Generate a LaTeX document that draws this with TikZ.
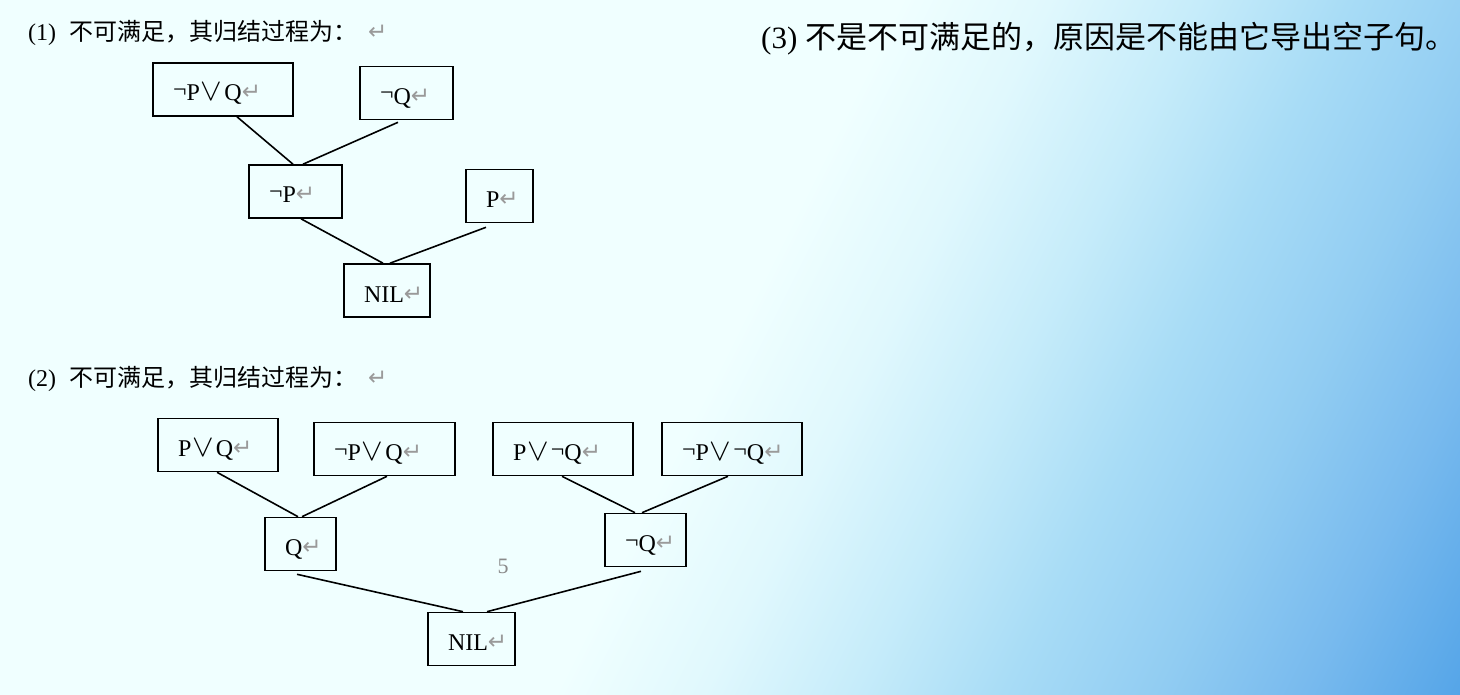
\documentclass[tikz,border=0pt]{standalone}
\usepackage{fontspec}
\setmainfont{Liberation Serif}
\newfontfamily\zhfont{Noto Sans CJK SC}
\newfontfamily\arrowfont{DejaVu Sans}

% background colours, light cyan towards blue in the lower right
\definecolor{bgA}{HTML}{F0FFFF}
\definecolor{bgB}{HTML}{E0F8FD}
\definecolor{bgC}{HTML}{C6ECFA}
\definecolor{bgD}{HTML}{A8DCF6}
\definecolor{bgE}{HTML}{92CDF2}
\definecolor{bgF}{HTML}{78BAEE}
\definecolor{bgG}{HTML}{55A5E8}
\definecolor{retgray}{HTML}{9A9A9A}
\definecolor{numgray}{HTML}{8A8A8A}

% stops along 2x+y (0..3615) mapped onto 25bp..75bp
\pgfdeclarehorizontalshading{bgshade}{100bp}{color(0bp)=(bgA); color(25bp)=(bgA);
  color(49.90bp)=(bgA); color(54.05bp)=(bgB); color(58.20bp)=(bgC);
  color(62.34bp)=(bgD); color(66.49bp)=(bgE); color(70.64bp)=(bgF);
  color(75bp)=(bgG); color(100bp)=(bgG)}

% paragraph mark, negation and disjunction signs
\newcommand\ret{\raisebox{1pt}{\arrowfont\fontsize{23}{23}\selectfont\color{retgray}↵}}
\newcommand\negs{\raisebox{3.5pt}{¬}}
\newcommand\disj{\kern1pt\scalebox{1.3}[1.25]{$\vee$}\kern2pt}

\tikzset{
  clause/.style={draw=black, line width=1.6pt, minimum height=53pt,
    inner xsep=20pt, inner ysep=0pt, align=left, text height=23pt, text depth=0pt,
    font=\fontsize{24}{24}\selectfont},
  link/.style={line width=1.6pt},
  heading/.style={anchor=base west, inner sep=0pt, font=\fontsize{24}{24}\selectfont},
}

\begin{document}
\begin{tikzpicture}[x=1pt, y=-1pt]
\useasboundingbox (0,0) rectangle (1460,695);

% background gradient
\begin{scope}
  \clip (0,0) rectangle (1460,695);
  \fill[bgA] (0,0) rectangle (1460,695);
  \begin{scope}[transform canvas={rotate=-26.565}]
    \shade[shading=bgshade] (0,-720) rectangle (1616.68,720);
  \end{scope}
\end{scope}

% headings
\node[heading] (h1) at (28,41) {(1)\kern13pt{\zhfont 不可满足，其归结过程为：}\kern11pt\ret};
\node[heading] (h2) at (28,386) {(2)\kern13pt{\zhfont 不可满足，其归结过程为：}\kern11pt\ret};
\node[heading, font=\fontsize{31}{31}\selectfont] (h3) at (761,49)
  {(3)\kern8pt{\zhfont 不是不可满足的，原因是不能由它导出空子句。}};

% refutation tree (1)
\node[clause, text width=100pt] (a1) at (223,89.5) {\negs P\disj Q\ret};
\node[clause, text width=53pt]  (a2) at (406.5,93) {\negs Q\ret};
\node[clause, text width=53pt]  (a3) at (295.5,191.5) {\negs P\ret};
\node[clause, text width=27pt]  (a4) at (499.5,196) {P\ret};
\node[clause, text width=46pt]  (a5) at (387,290.5) {NIL\ret};

\draw[link] ([xshift=14pt]a1.south) -- ([xshift=-2.5pt]a3.north);
\draw[link] ([xshift=-8.5pt,yshift=-2pt]a2.south) -- ([xshift=7.5pt]a3.north);
\draw[link] ([xshift=5.5pt]a3.south) -- ([xshift=-4pt]a5.north);
\draw[link] ([xshift=-13.5pt,yshift=-4pt]a4.south) -- ([xshift=3pt]a5.north);

% refutation tree (2)
\node[clause, text width=80pt]  (b1) at (218,445) {P\disj Q\ret};
\node[clause, text width=101pt] (b2) at (384.5,449) {\negs P\disj Q\ret};
\node[clause, text width=100pt] (b3) at (563,449) {P\disj \negs Q\ret};
\node[clause, text width=100pt] (b4) at (732,449) {\negs P\disj \negs Q\ret};
\node[clause, text width=31pt]  (b5) at (300.5,544) {Q\ret};
\node[clause, text width=41pt]  (b6) at (645.5,540) {\negs Q\ret};
\node[clause, text width=47pt]  (b7) at (471.5,639) {NIL\ret};

\draw[link] ([xshift=-1pt]b1.south) -- ([xshift=-2.5pt]b5.north);
\draw[link] ([xshift=2.5pt]b2.south) -- ([xshift=1.5pt]b5.north);
\draw[link] ([xshift=-1pt]b3.south) -- ([xshift=-10.5pt]b6.north);
\draw[link] ([xshift=-4pt]b4.south) -- ([xshift=-3.5pt]b6.north);
\draw[link] ([xshift=-3.5pt,yshift=-3pt]b5.south) -- ([xshift=-8.5pt]b7.north);
\draw[link] ([xshift=-4.5pt,yshift=-4pt]b6.south) -- ([xshift=15.5pt]b7.north);

% page number
\node[font=\fontsize{22}{22}\selectfont, text=numgray] (pg) at (503,566) {5};
\end{tikzpicture}
\end{document}
